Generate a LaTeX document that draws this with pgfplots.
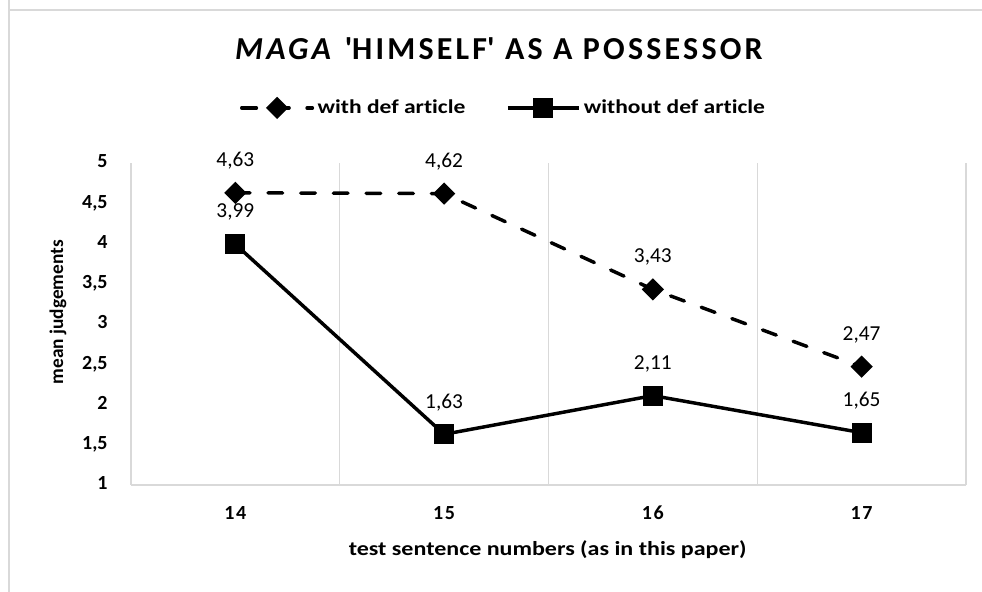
\documentclass[border=0pt]{standalone}
\usepackage{pgfplots}
\pgfplotsset{compat=1.18}
\usepackage{fontspec}
\setmainfont{Carlito}[Ligatures={NoCommon}]
\newfontfamily\wide{Carlito}[Ligatures={NoCommon}, FakeStretch=1.2]
\definecolor{gridgray}{HTML}{D9D9D9}
\begin{document}
\begin{tikzpicture}
\begin{axis}[
  at={(98.25pt,80.25pt)}, anchor=south west,
  scale only axis, width=626.25pt, height=241.5pt,
  xmin=-0.5, xmax=3.5, ymin=1, ymax=5,
  xtick={0,1,2,3}, xticklabels={14,15,16,17},
  minor xtick={-0.5,0.5,1.5,2.5,3.5},
  xminorgrids, minor grid style={gridgray, line width=1pt},
  ytick={1,1.5,2,2.5,3,3.5,4,4.5,5},
  axis x line*=bottom, axis y line*=left,
  x axis line style={gridgray, line width=1.2pt, -},
  y axis line style={draw=none},
  major tick length=0pt, minor tick length=0pt,
  /pgf/number format/.cd, use comma, fixed, precision=2, assume math mode=true,
  /pgfplots/.cd,
  typeset ticklabels with strut,
  xticklabel style={font=\fontsize{15}{18}\selectfont\bfseries\addfontfeatures{LetterSpace=8}},
  yticklabel style={font=\fontsize{15}{18}\selectfont\bfseries},
  xticklabel shift=10pt,
  yticklabel shift=14pt,
  xlabel={test sentence numbers (as in this paper)},
  ylabel={mean judgements},
  every axis x label/.style={at={(axis description cs:0.499,-0.202)}, anchor=center, font=\wide\fontsize{15}{18}\selectfont\bfseries},
  every axis y label/.style={at={(axis description cs:-0.0875,0.537)}, anchor=center, rotate=90, font=\fontsize{14.5}{17}\selectfont\bfseries},
  clip=false,
  nodes near coords,
  every node near coord/.append style={font=\fontsize{16}{19}\selectfont, anchor=center, yshift=24pt, text=black},
  legend columns=2,
  legend style={at={(axis description cs:0.447,1.171)}, anchor=center, draw=none, fill=none,
    font=\wide\fontsize{14.7}{18}\selectfont\bfseries,
    /tikz/every even column/.append style={column sep=28pt},
    /tikz/every odd column/.append style={column sep=0pt},
    nodes={inner xsep=2.6pt},
    inner sep=0pt},
  legend image code/.code={\draw[mark repeat=2,mark phase=2,#1] plot coordinates {(0pt,0pt) (26.5pt,0pt) (53pt,0pt)};},
]
\addplot[black, line width=2.6pt, dash pattern=on 11pt off 13.5pt, line cap=round,
  mark=square*, mark size=4.6pt, mark options={solid, rotate=45, fill=black}]
  coordinates {(0,4.63) (1,4.62) (2,3.43) (3,2.47)};
\addlegendentry{with def article}
\addplot[black, line width=2.6pt, mark=square*, mark size=6.2pt, mark options={solid, fill=black}]
  coordinates {(0,3.99) (1,1.63) (2,2.11) (3,1.65)};
\addlegendentry{without def article}
\node[font=\fontsize{24}{28}\selectfont\bfseries\addfontfeatures{LetterSpace=10}, anchor=center]
  at (axis description cs:0.4406,1.354) {\textit{MAGA} \textquotesingle HIMSELF\textquotesingle\ AS A POSSESSOR};
\end{axis}
\draw[gridgray, line width=1.5pt] (6.75pt,460pt) -- (6.75pt,436.5pt) -- (760pt,436.5pt);
\draw[gridgray, line width=1.5pt] (6.75pt,-20pt) -- (6.75pt,436.5pt);
\pgfresetboundingbox
\useasboundingbox (0pt,0pt) rectangle (736.5pt,444pt);
\end{tikzpicture}
\end{document}
